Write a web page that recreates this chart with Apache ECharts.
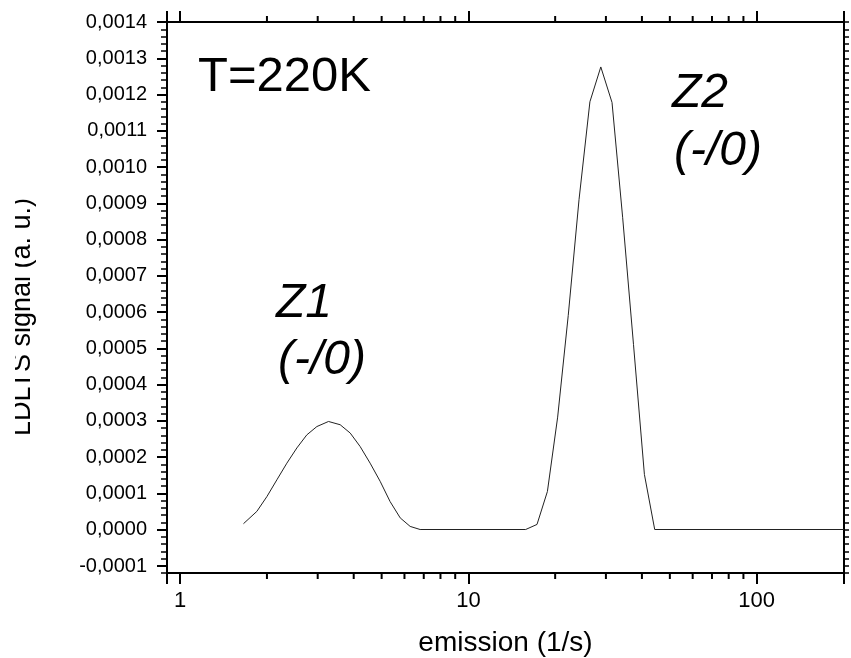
<!DOCTYPE html>
<html lang="en">
<head>
    <meta charset="UTF-8">
    <title>LDLTS 220K</title>
    <style>
        body { margin: 0; background: #fff; }
    </style>
</head>
<body>
<div id="main" style="width: 851px;height:658px;"></div>
<script src="https://cdn.jsdelivr.net/npm/echarts@6/dist/echarts.min.js"></script>
<script>
    // emission rate (1/s) and LDLTS signal (a. u.)
    var emission = [1.658, 1.845, 2.0, 2.165, 2.345, 2.54, 2.75, 2.98, 3.27, 3.59, 3.89, 4.21, 4.56, 4.94, 5.35, 5.8, 6.28, 6.8,
        15.8, 17.3, 18.8, 20.4, 22.2, 24.2, 26.4, 28.8, 31.5, 34.3, 37.4, 40.8, 44.3, 201];
    var signal = [0.000016, 0.00005, 0.000091, 0.000137, 0.000183, 0.000225, 0.000261, 0.000284, 0.000298, 0.000289, 0.000266,
        0.000229, 0.000183, 0.000133, 0.000077, 0.000032, 0.0000085, 0,
        0, 0.000014, 0.000105, 0.00031, 0.00059, 0.00091, 0.00118, 0.001276, 0.001178, 0.00086, 0.00051, 0.000152, 0, 0];
    var decadeLabels = [1, 10, 100];
    var minorTicksX = [2, 3, 4, 5, 6, 7, 8, 9, 20, 30, 40, 50, 60, 70, 80, 90];

    var X_MIN = 0.9, X_MAX = 201;
    var Y_MIN = -0.00012, Y_MAX = 0.0014;
    var FONT = 'Liberation Sans, Arial, sans-serif';

    var points = [];
    for (var i = 0; i < emission.length; i++) {
        points.push([emission[i], signal[i]]);
    }

    var myChart = echarts.init(document.getElementById('main'));
    var axisLine = {show: true, onZero: false, lineStyle: {color: '#000', width: 2}};

    var option = {
        backgroundColor: '#fff',
        animation: false,
        grid: [
            {left: 167, right: 7, top: 22, bottom: 85, outerBoundsMode: 'none', containLabel: false},
            // same scale, shifted min so the labelled ticks start at -0,0001
            {left: 167, right: 7, top: 22, bottom: 92, outerBoundsMode: 'none', containLabel: false}
        ],
        xAxis: [
            {
                gridIndex: 0, type: 'log', logBase: 10, min: X_MIN, max: X_MAX, position: 'bottom',
                axisLine: axisLine,
                axisTick: {show: true, length: 11, lineStyle: {color: '#000', width: 2}},
                splitLine: {show: false},
                axisLabel: {
                    fontSize: 22, fontFamily: FONT, color: '#000', margin: 17, lineHeight: 22,
                    formatter: function (v) {
                        for (var k = 0; k < decadeLabels.length; k++) {
                            if (Math.abs(v - decadeLabels[k]) < 1e-6 * decadeLabels[k]) return String(decadeLabels[k]);
                        }
                        return '';
                    }
                },
                name: 'emission (1/s)', nameLocation: 'middle', nameGap: 56,
                nameTextStyle: {fontSize: 28, fontFamily: FONT, color: '#000', lineHeight: 28}
            },
            {
                gridIndex: 0, type: 'log', logBase: 10, min: X_MIN, max: X_MAX, position: 'top',
                axisLine: axisLine,
                axisTick: {show: true, length: 11, lineStyle: {color: '#000', width: 2}},
                axisLabel: {show: false},
                splitLine: {show: false}
            },
            {gridIndex: 1, type: 'value', min: 0, max: 1, show: false}
        ],
        yAxis: [
            {
                gridIndex: 0, type: 'value', min: Y_MIN, max: Y_MAX, interval: 0.00002, position: 'left',
                axisLine: axisLine,
                axisTick: {show: true, length: 6, lineStyle: {color: '#000', width: 1.5}},
                axisLabel: {show: false},
                splitLine: {show: false}
            },
            {
                gridIndex: 0, type: 'value', min: Y_MIN, max: Y_MAX, interval: 0.00002, position: 'right',
                axisLine: axisLine,
                axisTick: {show: true, length: 5, lineStyle: {color: '#000', width: 1.5}},
                axisLabel: {show: false},
                splitLine: {show: false}
            },
            {
                gridIndex: 1, type: 'value', min: -0.0001, max: 0.0014, interval: 0.0001, position: 'left',
                axisLine: {show: false, onZero: false},
                axisTick: {show: true, length: 10, lineStyle: {color: '#000', width: 2}},
                splitLine: {show: false},
                axisLabel: {
                    fontSize: 20, fontFamily: FONT, color: '#000', margin: 20,
                    formatter: function (v) {
                        return v.toFixed(4).replace('.', ',');
                    }
                }
            }
        ],
        graphic: [
            {
                type: 'text', x: 23, y: 317, rotation: Math.PI / 2,
                style: {text: 'LDLTS signal (a. u.)', fontSize: 27, fontFamily: FONT, fill: '#000',
                    align: 'center', verticalAlign: 'middle'}
            },
            // the source picture is cropped through the top of this title
            {type: 'rect', shape: {x: 0, y: 150, width: 15, height: 330}, style: {fill: '#fff'}, z: 100},
            {
                type: 'text', x: 198, y: 77,
                style: {text: 'T=220K', fontSize: 49, fontFamily: FONT, fill: '#000', align: 'left', verticalAlign: 'middle'}
            },
            {
                type: 'text', x: 276, y: 304,
                style: {text: 'Z1', fontSize: 48, fontStyle: 'italic', fontFamily: FONT, fill: '#000', align: 'left', verticalAlign: 'middle'}
            },
            {
                type: 'text', x: 278, y: 361,
                style: {text: '(-/0)', fontSize: 48, fontStyle: 'italic', fontFamily: FONT, fill: '#000', align: 'left', verticalAlign: 'middle'}
            },
            {
                type: 'text', x: 672, y: 94,
                style: {text: 'Z2', fontSize: 48, fontStyle: 'italic', fontFamily: FONT, fill: '#000', align: 'left', verticalAlign: 'middle'}
            },
            {
                type: 'text', x: 674, y: 152,
                style: {text: '(-/0)', fontSize: 48, fontStyle: 'italic', fontFamily: FONT, fill: '#000', align: 'left', verticalAlign: 'middle'}
            }
        ],
        series: [
            {
                name: 'LDLTS', type: 'line', xAxisIndex: 0, yAxisIndex: 0,
                data: points, showSymbol: false, symbol: 'none',
                lineStyle: {color: '#222', width: 1}
            },
            {
                // minor log ticks on bottom and top axes
                type: 'custom', xAxisIndex: 0, yAxisIndex: 0,
                data: minorTicksX.map(function (v) { return [v, 0]; }),
                renderItem: function (params, api) {
                    var v = api.value(0);
                    var pb = api.coord([v, Y_MIN]);
                    var pt = api.coord([v, Y_MAX]);
                    var st = {stroke: '#000', lineWidth: 2};
                    return {
                        type: 'group',
                        children: [
                            {type: 'line', shape: {x1: pb[0], y1: pb[1], x2: pb[0], y2: pb[1] + 6}, style: st},
                            {type: 'line', shape: {x1: pt[0], y1: pt[1], x2: pt[0], y2: pt[1] - 6}, style: st}
                        ]
                    };
                }
            }
        ]
    };

    myChart.setOption(option);
</script>
</body>
</html>
